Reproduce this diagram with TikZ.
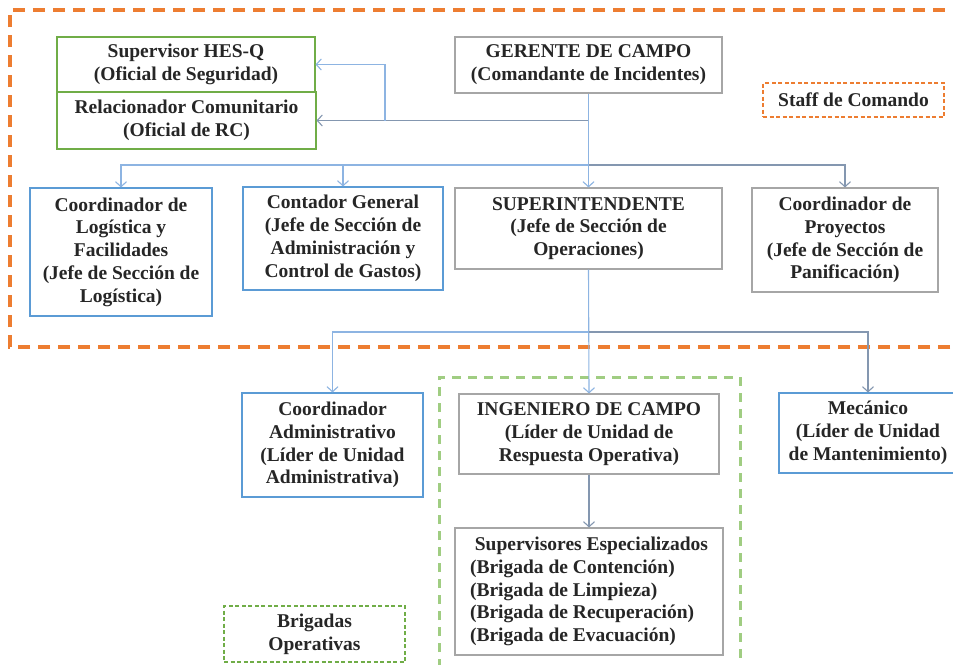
\documentclass[tikz,border=0pt]{standalone}
\usepackage{fontspec}
\setmainfont{Liberation Serif}
\usetikzlibrary{arrows.meta}
\definecolor{orgorange}{RGB}{237,125,49}
\definecolor{orggreen}{RGB}{112,173,71}
\definecolor{orglightgreen}{RGB}{160,205,130}
\definecolor{orgblue}{RGB}{91,155,213}
\definecolor{orggray}{RGB}{166,166,166}
\definecolor{linelight}{RGB}{141,180,226}
\definecolor{linedark}{RGB}{132,151,176}
\definecolor{orgtext}{RGB}{38,38,38}
\begin{document}
\begin{tikzpicture}[x=1pt, y=-1pt,
  every node/.style={font=\fontsize{19.5}{22.8}\selectfont\bfseries, text=orgtext, align=center, inner sep=0pt},
  box/.style={draw, line width=1.1pt, fill=white},
  greenbox/.style={box, draw=orggreen},
  bluebox/.style={box, draw=orgblue},
  graybox/.style={box, draw=orggray},
  tagbox/.style={draw, line width=1.3pt, dash pattern=on 4pt off 2.5pt},
  lightline/.style={draw=linelight, line width=1.1pt, -{Straight Barb[length=5pt,width=11pt]}},
  darkline/.style={draw=linedark, line width=1.1pt, -{Straight Barb[length=5pt,width=11pt]}}]
\useasboundingbox (0,0) rectangle (953,664);
\clip (0,0) rectangle (953,664);
\fill[white] (0,0) rectangle (953,664);
% groups
\draw[orgorange, line width=3.5pt, dash pattern=on 12pt off 8pt] (990,347) -- (10,347) -- (10,10) -- (990,10);
\draw[orglightgreen, line width=3pt, dash pattern=on 9pt off 7pt] (439,700) -- (439,377) -- (740,377) -- (740,700);
% staff de comando
\node[greenbox, minimum width=258, minimum height=55] (hesq) at (186,64.5) {Supervisor HES-Q\\(Oficial de Seguridad)};
\node[greenbox, minimum width=259, minimum height=57] (rc) at (186.5,120.5) {Relacionador Comunitario\\(Oficial de RC)};
\node[graybox, minimum width=267, minimum height=56] (gerente) at (588.5,65) {GERENTE DE CAMPO\\(Comandante de Incidentes)};
\node[tagbox, draw=orgorange, minimum width=181, minimum height=34] (staff) at (853.5,100) {Staff de Comando};
% secciones
\node[bluebox, minimum width=182, minimum height=128] (logist) at (121,252) {Coordinador de\\Logística y\\Facilidades\\(Jefe de Sección de\\Logística)};
\node[bluebox, minimum width=200, minimum height=103] (contador) at (343,238.5) {Contador General\\(Jefe de Sección de\\Administración y\\Control de Gastos)};
\node[graybox, minimum width=267, minimum height=81] (superint) at (588.5,228.5) {SUPERINTENDENTE\\(Jefe de Sección de\\Operaciones)};
\node[graybox, minimum width=186, minimum height=104] (proyectos) at (845,240) {Coordinador de\\Proyectos\\(Jefe de Sección de\\Panificación)};
% unidades
\node[bluebox, minimum width=181, minimum height=104] (cadmin) at (332.5,445) {Coordinador\\Administrativo\\(Líder de Unidad\\Administrativa)};
\node[graybox, minimum width=260, minimum height=80] (ingeniero) at (589,434) {INGENIERO DE CAMPO\\(Líder de Unidad de\\Respuesta Operativa)};
\node[bluebox, minimum width=178, minimum height=80] (mecanico) at (868,433) {Mecánico\\(Líder de Unidad\\de Mantenimiento)};
\node[graybox, minimum width=268, minimum height=127, align=left] (superv) at (589,591.5) {\ Supervisores Especializados\\(Brigada de Contención)\\(Brigada de Limpieza)\\(Brigada de Recuperación)\\(Brigada de Evacuación)};
\node[tagbox, draw=orggreen, minimum width=181, minimum height=56] (brigadas) at (314.5,634) {Brigadas\\Operativas};
% conectores
\coordinate (staffsplit) at (385,121);
\coordinate (bus1) at (588.5,165);
\coordinate (bus2) at (588.5,332);
\draw[darkline] (gerente.south) |- (rc.east);
\draw[lightline] (staffsplit) |- (hesq.east);
\draw[lightline] (gerente.south) -- (superint.north);
\draw[lightline] (bus1) -| (logist.north);
\draw[lightline] (bus1) -| (contador.north);
\draw[darkline] (bus1) -| (proyectos.north);
\draw[lightline] (superint.south) -- (ingeniero.north);
\draw[lightline] (bus2) -| (cadmin.north);
\draw[darkline] (bus2) -| (mecanico.north);
\draw[darkline] (ingeniero.south) -- (superv.north);
\end{tikzpicture}
\end{document}
